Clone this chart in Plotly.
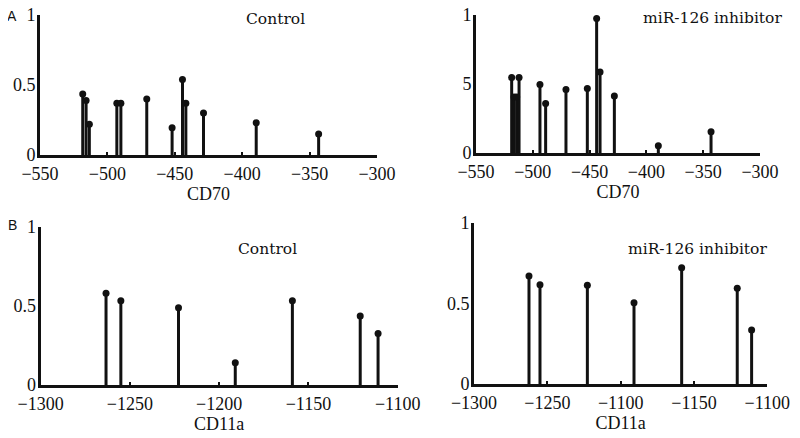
import plotly.graph_objects as go

# ---- data ----
cd70_ctrl_x = [-518.3, -515.8, -513.4, -493.0, -490.0, -470.8, -452.0, -444.3, -441.8, -428.7, -389.6, -343.3]
cd70_ctrl_y = [0.435, 0.39, 0.22, 0.37, 0.37, 0.40, 0.195, 0.54, 0.37, 0.30, 0.23, 0.15]

cd70_inh_x = [-518.6, -516.5, -514.2, -512.1, -493.7, -488.7, -470.8, -452.0, -443.8, -440.8, -428.2, -389.5, -343.1]
cd70_inh_y = [0.546, 0.405, 0.405, 0.546, 0.494, 0.358, 0.459, 0.466, 0.972, 0.584, 0.412, 0.052, 0.153]

cd11a_ctrl_x = [-1263.4, -1255.1, -1222.8, -1191.0, -1159.0, -1121.0, -1111.0]
cd11a_ctrl_y = [0.579, 0.533, 0.488, 0.141, 0.533, 0.436, 0.326]

cd11a_inh_x = [-1262.5, -1255.0, -1222.7, -1190.9, -1158.4, -1120.5, -1110.7]
cd11a_inh_y = [0.669, 0.616, 0.612, 0.504, 0.721, 0.593, 0.335]

cd70_ticks = [-550, -500, -450, -400, -350, -300]
cd70_ticktext = ["−550", "−500", "−450", "−400", "−350", "−300"]
cd11a_ticks = [-1300, -1250, -1200, -1150, -1100]
cd11a_ctrl_ticktext = ["−1300", "−1250", "−1200", "−1150", "−1100"]
cd11a_inh_ticktext = ["−1300", "−1250", "−1100", "−1150", "−1100"]
y_ticks = [0, 0.5, 1]
y_ticktext = ["0", "0.5", "1"]
y_ticktext_tr = ["0", "5", "1"]

panel_titles = ["Control", "miR-126 inhibitor", "Control", "miR-126 inhibitor"]
x_titles = ["CD70", "CD70", "CD11a", "CD11a"]

FONT = "Liberation Serif"
TFONT = "DejaVu Serif"
BLACK = "#111"
W, H = 800, 438
OFFX, OFFY = 8, 8  # page body margin


def fx(px):
    return (px - OFFX) / W


def fy(py):
    return 1 - (py - OFFY) / H


fig = go.Figure()

panels = [
    (cd70_ctrl_x, cd70_ctrl_y, "x", "y"),
    (cd70_inh_x, cd70_inh_y, "x2", "y2"),
    (cd11a_ctrl_x, cd11a_ctrl_y, "x3", "y3"),
    (cd11a_inh_x, cd11a_inh_y, "x4", "y4"),
]
for xs, ys, xa, ya in panels:
    sx, sy = [], []
    for x, y in zip(xs, ys):
        sx += [x, x, None]
        sy += [0, y, None]
    fig.add_trace(go.Scatter(x=sx, y=sy, mode="lines", line=dict(color=BLACK, width=3),
                             xaxis=xa, yaxis=ya, showlegend=False, hoverinfo="skip", cliponaxis=False))
    fig.add_trace(go.Scatter(x=xs, y=ys, mode="markers", marker=dict(color=BLACK, size=7),
                             xaxis=xa, yaxis=ya, showlegend=False, cliponaxis=False))


def xaxis(px0, px1, rng, ticks, text, title, anchor):
    return dict(domain=[fx(px0), fx(px1)], range=rng, tickvals=ticks, ticktext=text, anchor=anchor,
                automargin=False, ticklabeloverflow="allow",
                showline=True, linewidth=3, linecolor=BLACK, showgrid=False, zeroline=False,
                ticks="inside", ticklen=3, tickwidth=2, tickcolor=BLACK,
                tickfont=dict(family=FONT, size=18, color=BLACK),
                title=dict(text=title, font=dict(family=FONT, size=18, color=BLACK), standoff=2))


def yaxis(py_top, py_bot, ticktext, anchor):
    return dict(domain=[fy(py_bot), fy(py_top)], range=[0, 1], tickvals=y_ticks, ticktext=ticktext,
                anchor=anchor, automargin=False, ticklabeloverflow="allow",
                showline=True, linewidth=3, linecolor=BLACK, showgrid=False, zeroline=False,
                ticks="", tickfont=dict(family=FONT, size=18, color=BLACK), ticklabelstandoff=-2)


fig.update_layout(
    width=W, height=H, margin=dict(l=0, r=0, t=0, b=0),
    paper_bgcolor="white", plot_bgcolor="white",
    xaxis=xaxis(40, 377, [-550, -300], cd70_ticks, cd70_ticktext, x_titles[0], "y"),
    yaxis=yaxis(15, 155, y_ticktext, "x"),
    xaxis2=xaxis(476, 760, [-550, -300], cd70_ticks, cd70_ticktext, x_titles[1], "y2"),
    yaxis2=yaxis(14.5, 153, y_ticktext_tr, "x2"),
    xaxis3=xaxis(40.7, 397.7, [-1300, -1100], cd11a_ticks, cd11a_ctrl_ticktext, x_titles[2], "y3"),
    yaxis3=yaxis(226.7, 385, y_ticktext, "x3"),
    xaxis4=xaxis(474, 767.3, [-1300, -1100], cd11a_ticks, cd11a_inh_ticktext, x_titles[3], "y4"),
    yaxis4=yaxis(222.7, 384, y_ticktext, "x4"),
)

ann_font = dict(family=TFONT, size=15.5, color=BLACK)
annos = [
    (275, 19, panel_titles[0]),
    (712, 18, panel_titles[1]),
    (267, 249, panel_titles[2]),
    (697, 249, panel_titles[3]),
]
for px, py, t in annos:
    fig.add_annotation(x=fx(px), y=fy(py), xref="paper", yref="paper", text=t,
                       showarrow=False, font=ann_font, xanchor="center", yanchor="middle")
for px, py, t in [(12, 16, "A"), (12, 225, "B")]:
    fig.add_annotation(x=fx(px), y=fy(py), xref="paper", yref="paper", text=t,
                       showarrow=False, font=dict(family="Liberation Sans", size=14, color=BLACK),
                       xanchor="center", yanchor="middle")

fig.write_html("out.html")
